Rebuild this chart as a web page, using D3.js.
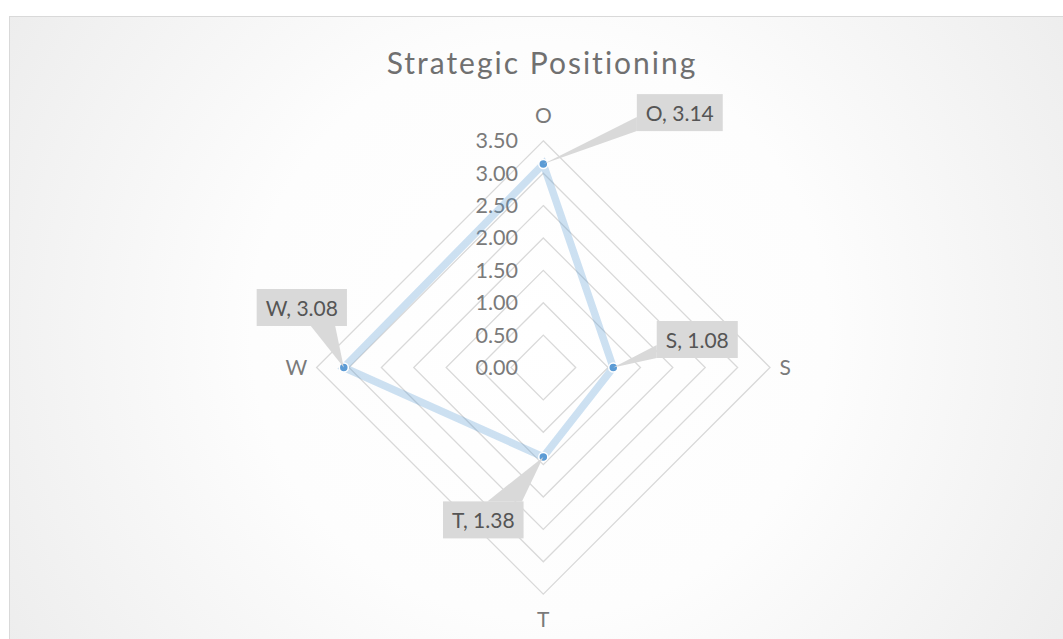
<!DOCTYPE html>
<html>
<head>
<meta charset="utf-8">
<script src="https://cdn.jsdelivr.net/npm/d3@7"></script>
<style>
  html, body { margin: 0; padding: 0; background: #ffffff; }
  svg { display: block; }
</style>
</head>
<body>
<svg id="chart" width="1063" height="639"></svg>
<script>
// ---- data ----
const categories = ["O", "S", "T", "W"];
const values = [3.14, 1.08, 1.38, 3.08];
const tickValues = [0, 0.5, 1.0, 1.5, 2.0, 2.5, 3.0, 3.5];
const title = "Strategic Positioning";

// ---- layout (not data) ----
const W = 1063, H = 639;
const cx = 543.3, cy = 367.5, R = 226.7;
// label box offsets relative to point, and wedge base (relative to box)
const labelLayout = [
  { dx: 136.5, dy: -51.5, side: "left",   a: 0.62, b: 1.0 },
  { dx: 84,    dy: -28,   side: "left",   a: 0.65, b: 1.0 },
  { dx: -60,   dy: 63,    side: "top",    a: 0.55, b: 0.98 },
  { dx: -42,   dy: -60,   side: "bottom", a: 0.60, b: 0.87 }
];

const svg = d3.select("#chart");
const defs = svg.append("defs");
const grad = defs.append("radialGradient").attr("id", "bg")
  .attr("gradientUnits", "userSpaceOnUse")
  .attr("cx", 540).attr("cy", 330).attr("r", 640);
grad.append("stop").attr("offset", "0%").attr("stop-color", "#ffffff");
grad.append("stop").attr("offset", "45%").attr("stop-color", "#fdfdfd");
grad.append("stop").attr("offset", "100%").attr("stop-color", "#ececec");

svg.append("rect").attr("x", 9.5).attr("y", 16.5).attr("width", 1070).attr("height", 640)
  .attr("fill", "url(#bg)").attr("stroke", "#d9d9d9").attr("stroke-width", 1);

const font = "Lato, 'Open Sans', sans-serif";

svg.append("text").attr("x", 542).attr("y", 74)
  .attr("text-anchor", "middle")
  .attr("font-family", font).attr("font-weight", 400)
  .attr("font-size", 30).attr("letter-spacing", 2.0)
  .attr("fill", "#707070").text(title);

const r = d3.scaleLinear().domain([0, 3.5]).range([0, R]);
const angle = d3.scalePoint().domain(categories.concat(["_end"])).range([0, 2 * Math.PI]);
const pt = (c, v) => {
  const a = angle(c);
  return [cx + r(v) * Math.sin(a), cy - r(v) * Math.cos(a)];
};

// grid diamonds
const g = svg.append("g");
tickValues.filter(t => t > 0).forEach(t => {
  g.append("polygon")
    .attr("points", categories.map(c => pt(c, t).join(",")).join(" "))
    .attr("fill", "none").attr("stroke", "#d9d9d9").attr("stroke-width", 1.3);
});

// tick labels
g.selectAll("text.tick").data(tickValues).join("text")
  .attr("class", "tick")
  .attr("x", 518).attr("y", d => cy - r(d))
  .attr("dy", "0.35em").attr("text-anchor", "end")
  .attr("font-family", font).attr("font-size", 21.5)
  .attr("fill", "#7a7a7a").text(d => d3.format(".2f")(d));

// category labels
const catOff = { O: [0, -252], S: [242, 0], T: [0, 252], W: [-247, 0] };
g.selectAll("text.cat").data(categories).join("text")
  .attr("class", "cat")
  .attr("x", d => cx + catOff[d][0]).attr("y", d => cy + catOff[d][1])
  .attr("dy", "0.35em").attr("text-anchor", "middle")
  .attr("font-family", font).attr("font-size", 21)
  .attr("fill", "#7a7a7a").text(d => d);

// series line
const pts = categories.map((c, i) => pt(c, values[i]));
svg.append("path")
  .attr("d", d3.line().curve(d3.curveLinearClosed)(pts))
  .attr("fill", "none").attr("stroke", "#5b9bd5").attr("stroke-opacity", 0.3)
  .attr("stroke-width", 7.5).attr("stroke-linejoin", "miter");

svg.selectAll("circle.m").data(pts).join("circle")
  .attr("class", "m")
  .attr("cx", d => d[0]).attr("cy", d => d[1]).attr("r", 4.5)
  .attr("fill", "#5b9bd5").attr("stroke", "#ffffff").attr("stroke-width", 1.5);

// data labels
const lg = svg.append("g");
categories.forEach((c, i) => {
  const [px, py] = pts[i];
  const L = labelLayout[i];
  const txt = `${c}, ${d3.format(".2f")(values[i])}`;
  const t = lg.append("text")
    .attr("font-family", font).attr("font-size", 21)
    .attr("fill", "#555555").attr("text-anchor", "middle")
    .attr("dy", "0.35em").text(txt);
  const w = t.node().getComputedTextLength() + 18;
  const h = 37;
  const bx = px + L.dx - w / 2, by = py + L.dy - h / 2;
  let b1, b2;
  if (L.side === "left") { b1 = [bx, by + h * L.a]; b2 = [bx, by + h * L.b]; }
  else if (L.side === "top") { b1 = [bx + w * L.a, by]; b2 = [bx + w * L.b, by]; }
  else { b1 = [bx + w * L.a, by + h]; b2 = [bx + w * L.b, by + h]; }
  lg.insert("polygon", "text")
    .attr("points", [[px, py], b1, b2].map(p => p.join(",")).join(" "))
    .attr("fill", "#d9d9d9");
  lg.insert("rect", "text")
    .attr("x", bx).attr("y", by).attr("width", w).attr("height", h)
    .attr("fill", "#d9d9d9");
  t.attr("x", px + L.dx).attr("y", py + L.dy + 1);
});
</script>
</body>
</html>
